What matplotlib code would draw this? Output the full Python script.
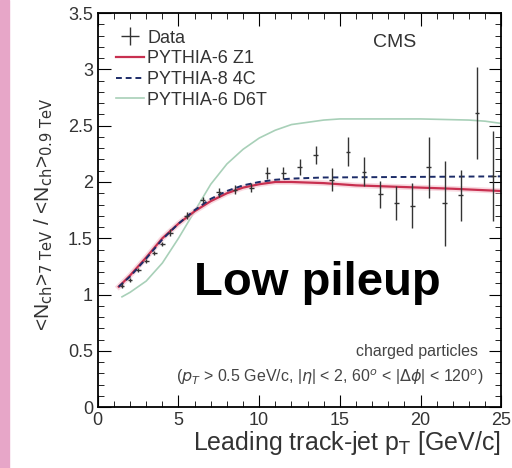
import numpy as np
import matplotlib.pyplot as plt
from matplotlib.ticker import MultipleLocator, FormatStrFormatter
from matplotlib.patches import Rectangle

plt.rcParams['font.family'] = ['Liberation Sans', 'DejaVu Sans']

# data points (ratio 7 TeV / 0.9 TeV)
data_x = [1.5, 2.0, 2.5, 3.0, 3.5, 4.0, 4.5, 5.5, 6.5, 7.5, 8.5, 9.5,
          10.5, 11.5, 12.5, 13.5, 14.5, 15.5, 16.5, 17.5, 18.5, 19.5,
          20.5, 21.5, 22.5, 23.5, 24.5]
data_y = [1.08, 1.13, 1.22, 1.30, 1.37, 1.45, 1.55, 1.70, 1.84, 1.91, 1.93, 1.95,
          2.08, 2.08, 2.13, 2.24, 2.02, 2.27, 2.09, 1.89, 1.81, 1.79,
          2.13, 1.81, 1.88, 2.61, 2.05]
data_err = [0.02, 0.02, 0.02, 0.02, 0.02, 0.02, 0.03, 0.03, 0.03, 0.04, 0.04, 0.04,
            0.05, 0.05, 0.07, 0.08, 0.10, 0.13, 0.13, 0.12, 0.15, 0.20,
            0.27, 0.38, 0.23, 0.41, 0.40]

# PYTHIA curves
z1_x = [1.3, 2, 3, 4, 5, 6, 7, 8, 9, 10, 11, 12, 14, 16, 18, 20, 22, 25]
z1_y = [1.07, 1.17, 1.33, 1.50, 1.63, 1.74, 1.83, 1.90, 1.95, 1.98, 2.00, 2.00,
        1.99, 1.97, 1.96, 1.95, 1.94, 1.92]
c4_x = [1.3, 2, 3, 4, 5, 6, 7, 8, 9, 10, 11, 12, 14, 25]
c4_y = [1.07, 1.16, 1.32, 1.49, 1.63, 1.75, 1.85, 1.92, 1.97, 2.00, 2.02, 2.03, 2.04, 2.05]
d6t_x = [1.5, 2, 3, 4, 5, 6, 7, 8, 9, 10, 11, 12, 13, 14, 15, 20, 23, 24, 25]
d6t_y = [0.98, 1.02, 1.12, 1.28, 1.50, 1.74, 1.98, 2.16, 2.29, 2.39, 2.46, 2.51,
         2.53, 2.55, 2.56, 2.56, 2.55, 2.54, 2.52]

fig = plt.figure(figsize=(5.12, 4.68), dpi=100, facecolor='w')
ax = fig.add_axes([0.191, 0.130, 0.788, 0.842])

# slide decoration at left edge
fig.patches.append(Rectangle((0, 0), 0.018, 1, transform=fig.transFigure,
                             color='#e7a6c8', zorder=0))

ax.plot(d6t_x, d6t_y, color='#a8d0b8', lw=1.2, label='PYTHIA-6 D6T')
ax.plot(z1_x, z1_y, color='#f4c0cc', lw=4, alpha=0.6)
ax.plot(z1_x, z1_y, color='#c83050', lw=1.6, label='PYTHIA-6 Z1')
ax.plot(c4_x, c4_y, color='#1c2c68', lw=1.4, ls=(0, (3, 2)), label='PYTHIA-8 4C')
ax.errorbar(data_x, data_y, yerr=data_err, xerr=0.15, fmt='none',
            ecolor='#333333', elinewidth=1.0, label='Data')

handles, labels = ax.get_legend_handles_labels()
order = [labels.index(l) for l in ['Data', 'PYTHIA-6 Z1', 'PYTHIA-8 4C', 'PYTHIA-6 D6T']]
ax.legend([handles[i] for i in order], [labels[i] for i in order],
          loc='upper left', bbox_to_anchor=(0.015, 0.99), frameon=False,
          fontsize=13, handlelength=1.5, handletextpad=0.2, labelspacing=0.2,
          borderaxespad=0.3, labelcolor='#333333')

ax.text(0.735, 0.926, 'CMS', transform=ax.transAxes, fontsize=14, ha='center',
        va='center', color='#333333')
ax.text(13.6, 1.0, 'Low pileup', fontsize=34, fontweight='bold', ha='center',
        va='baseline')
ax.text(23.57, 0.49, 'charged particles', fontsize=11.5, ha='right', va='center',
        color='#444444')
ax.text(23.9, 0.27, r'($p_{T}$ > 0.5 GeV/c, |$\eta$| < 2, 60$^{o}$ < |$\Delta\phi$| < 120$^{o}$)',
        fontsize=11.5, ha='right', va='center', color='#444444')

ax.set_xlim(0, 25)
ax.set_ylim(0, 3.5)
ax.xaxis.set_major_locator(MultipleLocator(5))
ax.xaxis.set_minor_locator(MultipleLocator(1))
ax.yaxis.set_major_locator(MultipleLocator(0.5))
ax.yaxis.set_minor_locator(MultipleLocator(0.1))
ax.yaxis.set_major_formatter(FormatStrFormatter('%g'))
ax.tick_params(which='both', direction='in', top=True, right=True,
               labelsize=13, labelcolor='#333333')
ax.tick_params(which='major', length=9)
ax.tick_params(which='minor', length=4)
for s in ax.spines.values():
    s.set_linewidth(1.3)

ax.set_xlabel(r'Leading track-jet p$_{\rm T}$ [GeV/c]', fontsize=18,
              loc='right', labelpad=0, color='#333333')
ax.set_ylabel(r'<N$_{\rm ch}$>$_{\rm 7\ TeV}$ / <N$_{\rm ch}$>$_{\rm 0.9\ TeV}$',
              fontsize=15, color='#333333')
ax.yaxis.set_label_coords(-0.107, 0.49)

fig.savefig('out.png', dpi=100)
